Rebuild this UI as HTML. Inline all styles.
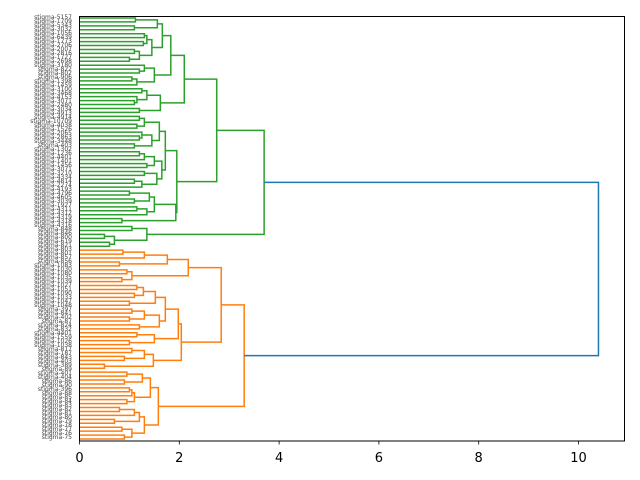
<!DOCTYPE html>
<html><head><meta charset="utf-8">
<style>
html,body{margin:0;padding:0;background:#fff;}
#wrap{position:relative;width:640px;height:480px;overflow:hidden;}
#labels{position:absolute;left:0;top:16px;width:72px;text-align:right;font-family:"DejaVu Sans","Liberation Sans",sans-serif;font-size:6px;line-height:4.0094px;color:#444;white-space:nowrap;}
#labels div{height:4.0094px;}
svg{position:absolute;left:0;top:0;}
</style></head><body>
<div id="wrap">
<div id="labels">
<div>stigma-5157</div><div>stigma-1709</div><div>stigma-5343</div><div>stigma-3032</div><div>stigma-1056</div><div>stigma-6439</div><div>stigma-1773</div><div>stigma-2706</div><div>stigma-2007</div><div>stigma-2816</div><div>stigma-1727</div><div>stigma-2698</div><div>stigma-3180</div><div>stigma-822</div><div>stigma-802</div><div>stigma-906</div><div>stigma-1398</div><div>stigma-1459</div><div>stigma-3100</div><div>stigma-3468</div><div>stigma-4153</div><div>stigma-3071</div><div>stigma-2480</div><div>stigma-3034</div><div>stigma-4913</div><div>stigma-4914</div><div>stigma-10709</div><div>stigma-4038</div><div>stigma-1526</div><div>stigma-2065</div><div>stigma-2863</div><div>stigma-3448</div><div>stigma-403</div><div>stigma-1302</div><div>stigma-1236</div><div>stigma-4401</div><div>stigma-1401</div><div>stigma-1456</div><div>stigma-3071</div><div>stigma-3210</div><div>stigma-4334</div><div>stigma-4814</div><div>stigma-2274</div><div>stigma-4193</div><div>stigma-4796</div><div>stigma-4605</div><div>stigma-3039</div><div>stigma-1927</div><div>stigma-4311</div><div>stigma-4312</div><div>stigma-4319</div><div>stigma-4318</div><div>stigma-4316</div><div>stigma-848</div><div>stigma-846</div><div>stigma-800</div><div>stigma-619</div><div>stigma-821</div><div>stigma-803</div><div>stigma-801</div><div>stigma-857</div><div>stigma-856</div><div>stigma-1083</div><div>stigma-1030</div><div>stigma-1080</div><div>stigma-1035</div><div>stigma-1039</div><div>stigma-1027</div><div>stigma-1051</div><div>stigma-1090</div><div>stigma-1033</div><div>stigma-1047</div><div>stigma-1048</div><div>stigma-397</div><div>stigma-841</div><div>stigma-402</div><div>stigma-87</div><div>stigma-824</div><div>stigma-832</div><div>stigma-4401</div><div>stigma-1559</div><div>stigma-1026</div><div>stigma-1038</div><div>stigma-817</div><div>stigma-187</div><div>stigma-843</div><div>stigma-403</div><div>stigma-389</div><div>stigma-89</div><div>stigma-401</div><div>stigma-404</div><div>stigma-86</div><div>stigma-90</div><div>stigma-396</div><div>stigma-88</div><div>stigma-85</div><div>stigma-84</div><div>stigma-83</div><div>stigma-82</div><div>stigma-81</div><div>stigma-80</div><div>stigma-79</div><div>stigma-78</div><div>stigma-77</div><div>stigma-76</div><div>stigma-75</div>
</div>
<svg id="s" width="640" height="480" xmlns="http://www.w3.org/2000/svg">
<g id="lines" fill="none" stroke-width="1.5"></g>
<rect x="79.5" y="16.5" width="545" height="424.5" fill="none" stroke="#000" stroke-width="1"/>
<g stroke="#000" stroke-width="0.8">
<line x1="79.5" y1="441" x2="79.5" y2="444.5"/><line x1="179.3" y1="441" x2="179.3" y2="444.5"/><line x1="279.1" y1="441" x2="279.1" y2="444.5"/><line x1="378.9" y1="441" x2="378.9" y2="444.5"/><line x1="478.7" y1="441" x2="478.7" y2="444.5"/><line x1="578.5" y1="441" x2="578.5" y2="444.5"/>
</g>
<g font-family="DejaVu Sans, Liberation Sans, sans-serif" font-size="13" text-anchor="middle" fill="#000">
<text x="79.5" y="462">0</text><text x="179.3" y="462">2</text><text x="279.1" y="462">4</text><text x="378.9" y="462">6</text><text x="478.7" y="462">8</text><text x="578.5" y="462">10</text>
</g>
</svg>
</div>
<script>
var G1=[1.83,[1.66,[1.56,[1.12,0,0],[1.1,0,0]],[1.45,[1.35,[1.3,0,0],[1.28,0,0]],[1.2,[1.1,0,0],[1.0,0,0]]]],[1.5,[1.3,0,[1.2,0,0]],[1.15,[1.05,0,0],0]]];
var G2=[1.62,[1.35,[1.25,0,0],[1.15,0,[1.1,0,0]]],[1.2,0,0]];
var G3a=[1.72,[1.6,[1.3,[1.2,0,0],[1.15,0,0]],[1.45,[1.25,0,[1.2,0,0]],[1.1,0,0]]],[1.65,[1.5,[1.3,[1.2,0,0],0],[1.35,0,0]],[1.55,[1.3,0,0],[1.25,[1.1,0,0],0]]]];
var G3b=[1.93,[1.5,[1.4,[1.0,0,0],[1.1,0,0]],[1.35,[1.15,0,0],0]],[0.85,0,0]];
var G4=[1.35,[1.05,0,0],[0.7,[0.5,0,0],[0.6,0,0]]];
var GREEN=[3.7,[2.75,[2.1,G1,G2],[1.95,G3a,G3b]],G4];
var O1=[2.18,[1.76,[1.3,[0.87,0,0],0],[0.8,0,0]],[1.05,[0.95,0,0],[0.85,0,0]]];
var O2a=[1.98,[1.72,[1.52,[1.28,[1.15,0,0],[1.1,0,0]],[1.0,0,0]],[1.6,[1.3,[1.05,0,0],[1.0,0,0]],[1.2,0,0]]],[1.5,[1.15,0,0],[1.0,0,0]]];
var O2=[2.04,O2a,[1.48,[1.3,[1.05,0,0],[0.9,0,0]],[0.5,0,0]]];
var O3=[1.58,[1.42,[1.26,[0.95,0,0],[0.9,0,0]],[1.1,[1.05,[1.0,0,0],0],[0.95,0,0]]],[1.3,[1.2,[1.1,[0.8,0,0],0],[0.7,0,0]],[1.05,[0.85,0,0],[0.9,0,0]]]];
var ORANGE=[3.3,[2.84,O1,O2],O3];
function cnt(n){return n===0?1:cnt(n[1])+cnt(n[2]);}
var N=cnt(GREEN)+cnt(ORANGE);
var sp=425/N, idx=0, out='';
function X(h){return 79.5+49.9*h;}
function draw(n,col){
 if(n===0){var y=16+sp*(idx+0.5);idx++;return {y:y,h:0};}
 var a=draw(n[1],col),b=draw(n[2],col),x=X(n[0]);
 out+='<path stroke="'+col+'" d="M'+X(a.h)+' '+a.y+'H'+x+'V'+b.y+'H'+X(b.h)+'"/>';
 return {y:(a.y+b.y)/2,h:n[0]};
}
var g=draw(GREEN,'#2ca02c'),o=draw(ORANGE,'#ff7f0e');
var rx=X(10.4);
out+='<path stroke="#1f77b4" d="M'+X(g.h)+' '+g.y+'H'+rx+'V'+o.y+'H'+X(o.h)+'"/>';
document.getElementById('lines').innerHTML=out;
</script>
</body></html>
